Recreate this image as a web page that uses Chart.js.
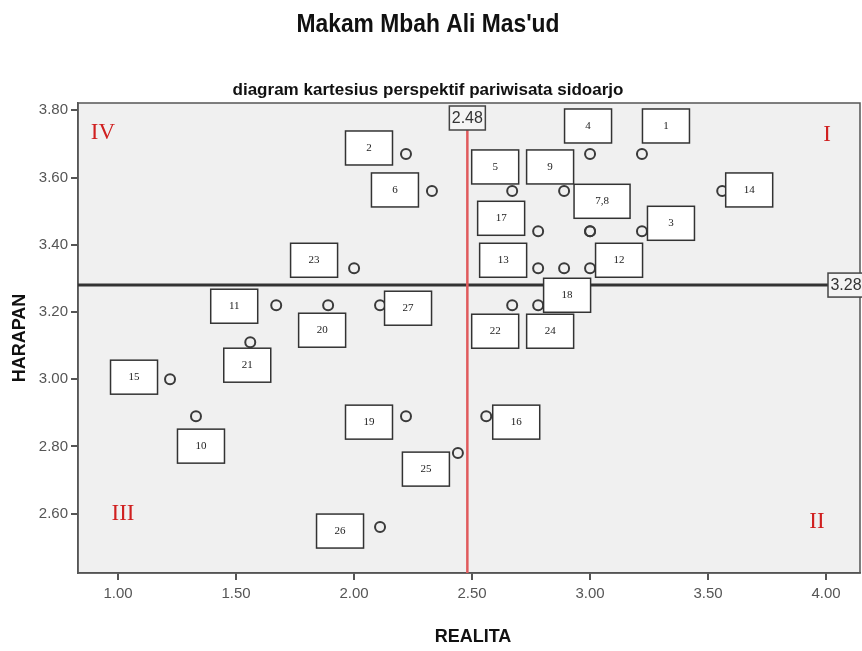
<!DOCTYPE html>
<html>
<head>
<meta charset="utf-8">
<script src="https://cdn.jsdelivr.net/npm/chart.js@4.4.0/dist/chart.umd.min.js"></script>
<style>
  html, body { margin: 0; padding: 0; background: #fff; }
</style>
</head>
<body>
<canvas id="kartesius" width="862" height="651"></canvas>
<script>
// atribut wisata 1..27 (7 dan 8 berimpit)
const atribut = ['1','2','3','4','5','6','7','8','9','10','11','12','13','14','15','16','17','18','19','20','21','22','23','24','25','26','27'];
const realita = [3.22, 2.22, 3.22, 3.00, 2.67, 2.33, 3.00, 3.00, 2.89, 1.33, 1.67, 3.00, 2.78, 3.56, 1.22, 2.56, 2.78, 2.89, 2.22, 1.89, 1.56, 2.67, 2.00, 2.78, 2.44, 2.11, 2.11];
const harapan = [3.67, 3.67, 3.44, 3.67, 3.56, 3.56, 3.44, 3.44, 3.56, 2.89, 3.22, 3.33, 3.33, 3.56, 3.00, 2.89, 3.44, 3.33, 2.89, 3.22, 3.11, 3.22, 3.33, 3.22, 2.78, 2.56, 3.22];
const rataRealita = 2.48;
const rataHarapan = 3.28;
const xTicks = [1.00, 1.50, 2.00, 2.50, 3.00, 3.50, 4.00];
const yTicks = [2.60, 2.80, 3.00, 3.20, 3.40, 3.60, 3.80];

// teks kotak label; titik 8 ikut kotak "7,8"
const teksKotak = atribut.map(a => a === '7' ? '7,8' : (a === '8' ? null : a));
// geser kotak label terhadap titik (px)
const geserKotak = [
  [24,-28], [-37,-6], [29,-8], [-2,-28], [-17,-24], [-37,-1], [12,-30], null, [-14,-24],
  [5,30], [-42,1], [29,-8], [-35,-8], [27,-1], [-36,-2], [30,6], [-37,-13], [3,27],
  [-37,6], [-6,25], [-3,23], [-17,26], [-40,-8], [12,26], [-32,16], [-40,4], [28,3]
];

// teks dirapatkan mendatar supaya selebar w
function tulisRapat(ctx, teks, cx, cy, w) {
  const asli = ctx.measureText(teks).width;
  ctx.save();
  ctx.translate(cx, cy);
  ctx.scale(w / asli, 1);
  ctx.fillText(teks, 0, 0);
  ctx.restore();
}

const kuadranPlugin = {
  id: 'kuadran',
  beforeDraw(chart) {
    const { ctx, chartArea: a } = chart;
    ctx.save();
    ctx.fillStyle = '#f0f0f0';
    ctx.fillRect(a.left, a.top, a.right - a.left, a.bottom - a.top);
    ctx.restore();
  },
  afterDatasetsDraw(chart) {
    const { ctx, chartArea: a, scales } = chart;
    const xs = scales.x, ys = scales.y;
    ctx.save();

    // bingkai area plot
    ctx.strokeStyle = '#555';
    ctx.lineWidth = 1.5;
    ctx.strokeRect(a.left, a.top, a.right - a.left, a.bottom - a.top);

    // garis rata-rata
    const mx = xs.getPixelForValue(rataRealita);
    const my = ys.getPixelForValue(rataHarapan);
    ctx.strokeStyle = '#333';
    ctx.lineWidth = 3;
    ctx.beginPath();
    ctx.moveTo(a.left, my);
    ctx.lineTo(a.right - 32, my);
    ctx.stroke();
    ctx.strokeStyle = '#e05a5c';
    ctx.lineWidth = 2.5;
    ctx.beginPath();
    ctx.moveTo(mx, a.top + 26);
    ctx.lineTo(mx, a.bottom);
    ctx.stroke();

    // label nilai rata-rata
    ctx.font = '16px "Liberation Sans", Arial, sans-serif';
    ctx.textAlign = 'center';
    ctx.textBaseline = 'middle';
    const kotakNilai = (cx, cy, w, teks) => {
      ctx.fillStyle = '#f4f4f4';
      ctx.fillRect(cx - w / 2, cy - 12, w, 24);
      ctx.strokeStyle = '#444';
      ctx.lineWidth = 1.5;
      ctx.strokeRect(cx - w / 2, cy - 12, w, 24);
      ctx.fillStyle = '#333';
      ctx.fillText(teks, cx, cy + 1);
    };
    kotakNilai(mx, a.top + 15, 36, rataRealita.toFixed(2));
    kotakNilai(a.right - 14, my, 36, rataHarapan.toFixed(2));

    // kotak nomor atribut
    ctx.font = '11px "Liberation Serif", "Times New Roman", serif';
    teksKotak.forEach((t, i) => {
      if (!t) return;
      const px = xs.getPixelForValue(realita[i]) + geserKotak[i][0];
      const py = ys.getPixelForValue(harapan[i]) + geserKotak[i][1];
      const w = t.length > 2 ? 56 : 47, h = 34;
      ctx.fillStyle = '#fff';
      ctx.fillRect(px - w / 2, py - h / 2, w, h);
      ctx.strokeStyle = '#333';
      ctx.lineWidth = 1.5;
      ctx.strokeRect(px - w / 2, py - h / 2, w, h);
      ctx.fillStyle = '#222';
      ctx.fillText(t, px, py);
    });

    // penanda kuadran
    ctx.font = '23px "Liberation Serif", "Times New Roman", serif';
    ctx.fillStyle = '#d02020';
    ctx.fillText('IV', a.left + 25, a.top + 30);
    ctx.fillText('I', a.right - 33, a.top + 32);
    ctx.fillText('III', a.left + 45, a.bottom - 59);
    ctx.fillText('II', a.right - 43, a.bottom - 51);

    ctx.restore();
  },
  afterDraw(chart) {
    const { ctx } = chart;
    ctx.save();
    ctx.fillStyle = '#111';
    ctx.textAlign = 'center';
    ctx.textBaseline = 'middle';
    ctx.font = 'bold 26px "Liberation Sans", Arial, sans-serif';
    tulisRapat(ctx, "Makam Mbah Ali Mas'ud", 428, 25, 263);
    ctx.font = 'bold 17px "Liberation Sans", Arial, sans-serif';
    tulisRapat(ctx, 'diagram kartesius perspektif pariwisata sidoarjo', 428, 90, 391);
    ctx.font = 'bold 18px "Liberation Sans", Arial, sans-serif';
    ctx.fillText('REALITA', 473, 637);
    ctx.translate(20, 338);
    ctx.rotate(-Math.PI / 2);
    ctx.fillText('HARAPAN', 0, 0);
    ctx.restore();
  }
};

new Chart(document.getElementById('kartesius').getContext('2d'), {
  type: 'scatter',
  data: {
    labels: atribut,
    datasets: [{
      label: 'atribut',
      data: realita.map((x, i) => ({ x: x, y: harapan[i] })),
      pointStyle: 'circle',
      pointRadius: 5,
      pointBorderWidth: 2,
      pointBorderColor: '#3a3a3a',
      pointBackgroundColor: 'rgba(0,0,0,0)'
    }]
  },
  options: {
    responsive: false,
    animation: false,
    layout: { autoPadding: false, padding: { top: 103, right: 2, left: 0, bottom: 0 } },
    plugins: {
      legend: { display: false },
      tooltip: { enabled: false }
    },
    scales: {
      x: {
        type: 'linear',
        min: 0.83,
        max: 4.144,
        afterFit(s) { s.height = 78; s.paddingLeft = 0; s.paddingRight = 0; },
        afterBuildTicks(s) { s.ticks = xTicks.map(v => ({ value: v })); },
        grid: { drawOnChartArea: false, tickLength: 7, color: '#555', lineWidth: 2 },
        border: { color: '#555', width: 1.5 },
        ticks: {
          padding: 5,
          color: '#555',
          font: { family: '"Liberation Sans", Arial, sans-serif', size: 15 },
          callback: v => v.toFixed(2)
        }
      },
      y: {
        type: 'linear',
        min: 2.4233,
        max: 3.8217,
        afterFit(s) { s.width = 78; s.paddingTop = 0; s.paddingBottom = 0; },
        afterBuildTicks(s) { s.ticks = yTicks.map(v => ({ value: v })); },
        grid: { drawOnChartArea: false, tickLength: 7, color: '#555', lineWidth: 2 },
        border: { color: '#555', width: 1.5 },
        ticks: {
          padding: 3,
          color: '#555',
          font: { family: '"Liberation Sans", Arial, sans-serif', size: 15 },
          callback: v => v.toFixed(2)
        }
      }
    }
  },
  plugins: [kuadranPlugin]
});
</script>
</body>
</html>
